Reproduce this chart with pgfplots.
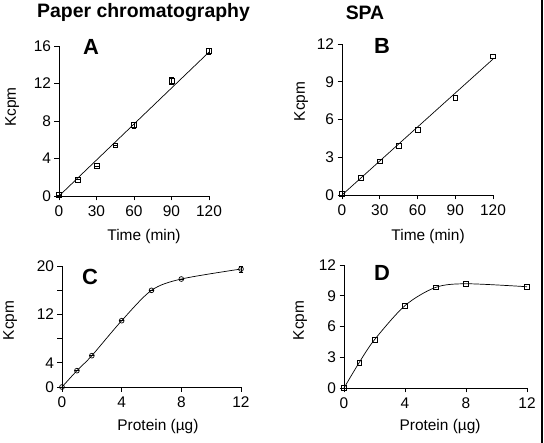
\documentclass[border=0pt]{standalone}
\usepackage{pgfplots}
\pgfplotsset{compat=1.18}
\usepackage{fontspec}
\setmainfont{Liberation Sans}
\pgfplotsset{panel/.style={
  scale only axis, anchor=south west,
  axis lines*=left, tick align=outside, major tick length=4.5bp,
  clip=false,
  axis line style={line width=0.8bp,-},
  every tick/.style={line width=0.8bp,black},
  tick label style={font=\fontsize{15.5}{16}\selectfont},
  xticklabel style={yshift=-2bp},
  label style={font=\fontsize{15.5}{16}\selectfont},
  /pgf/number format/assume math mode=true,
},
dat/.style={black, line width=0.7bp, mark size=2.4bp, mark options={solid, fill=white, line width=0.7bp},
  error bars/error bar style={line width=0.7bp}, error bars/error mark options={rotate=90, mark size=2.4bp, line width=0.7bp}}
}
\begin{document}
\begin{tikzpicture}
\useasboundingbox (0bp,0bp) rectangle (544bp,443bp);
% A
\begin{axis}[panel, at={(59bp,247bp)}, width=150bp, height=150bp,
  xmin=0, xmax=120, ymin=0, ymax=16, xtick={0,30,60,90,120}, ytick={0,4,8,12,16},
  xlabel={Time (min)}, ylabel={Kcpm},
  xlabel style={at={(axis description cs:0.567,-0.273)}, anchor=center},
  ylabel style={at={(axis description cs:-0.313,0.593)}, anchor=center}]
\addplot[black, line width=0.7bp] coordinates {(0,0) (120,15.35)};
\addplot[dat, only marks, mark=square, error bars/.cd, y dir=both, y explicit] coordinates {
(0,0.1) +- (0,0)
(15,1.74) +- (0,0)
(30,3.2) +- (0,0)
(45,5.4) +- (0,0)
(60,7.55) +- (0,0.3)
(90,12.3) +- (0,0.4)
(120,15.45) +- (0,0.3)
};
\end{axis}
% B
\begin{axis}[panel, at={(342bp,248bp)}, width=151bp, height=151bp,
  xmin=0, xmax=120, ymin=0, ymax=12, xtick={0,30,60,90,120}, ytick={0,3,6,9,12},
  xlabel={Time (min)}, ylabel={Kcpm},
  xlabel style={at={(axis description cs:0.57,-0.278)}, anchor=center},
  ylabel style={at={(axis description cs:-0.27,0.62)}, anchor=center}]
\addplot[black, line width=0.7bp] coordinates {(0,0) (120,10.8)};
\addplot[dat, only marks, mark=square] coordinates {
(0,0.1) (15,1.35) (30,2.68) (45,3.89) (60,5.19) (90,7.73) (120,11.02)
};
\end{axis}
% C
\begin{axis}[panel, at={(62bp,56bp)}, width=179bp, height=121bp,
  xmin=0, xmax=12, ymin=0, ymax=20, xtick={0,4,8,12}, ytick={0,4,8,12,16,20},
  yticklabels={0,4,,12,,20},
  xlabel={Protein (\textmu g)}, ylabel={Kcpm},
  xlabel style={at={(axis description cs:0.536,-0.33)}, anchor=center},
  ylabel style={at={(axis description cs:-0.29,0.55)}, anchor=center}]
\addplot[dat, smooth, tension=0.5, mark=o, error bars/.cd, y dir=both, y explicit] coordinates {
(0,0) +- (0,0)
(1,2.7) +- (0,0)
(2,5.18) +- (0,0)
(4,10.96) +- (0,0)
(6,15.98) +- (0,0)
(8,17.85) +- (0,0)
(12,19.5) +- (0,0.5)
};
\end{axis}
% D
\begin{axis}[panel, at={(344bp,55bp)}, width=183bp, height=123bp,
  xmin=0, xmax=12, ymin=0, ymax=12, xtick={0,4,8,12}, ytick={0,3,6,9,12},
  xlabel={Protein (\textmu g)}, ylabel={Kcpm},
  xlabel style={at={(axis description cs:0.525,-0.317)}, anchor=center},
  ylabel style={at={(axis description cs:-0.24,0.55)}, anchor=center}]
\addplot[dat, smooth, tension=0.5, mark=square] coordinates {
(0,0) (1,2.49) (2,4.71) (4,8.04) (6,9.81) (8,10.17) (12,9.88)
};
\end{axis}
% titles and panel letters
\node[font=\fontsize{19.5}{20}\selectfont\bfseries, anchor=west, inner sep=0pt] at (37bp,430bp) {Paper chromatography};
\node[font=\fontsize{19.5}{20}\selectfont\bfseries] at (365bp,430bp) {SPA};
\node[font=\fontsize{22}{22}\selectfont\bfseries] at (91bp,396bp) {A};
\node[font=\fontsize{22}{22}\selectfont\bfseries] at (382bp,397bp) {B};
\node[font=\fontsize{22}{22}\selectfont\bfseries] at (90bp,166bp) {C};
\node[font=\fontsize{22}{22}\selectfont\bfseries] at (382bp,170bp) {D};
\draw[line width=1.5bp] (542bp,0bp) -- (542bp,443bp);
\end{tikzpicture}
\end{document}
